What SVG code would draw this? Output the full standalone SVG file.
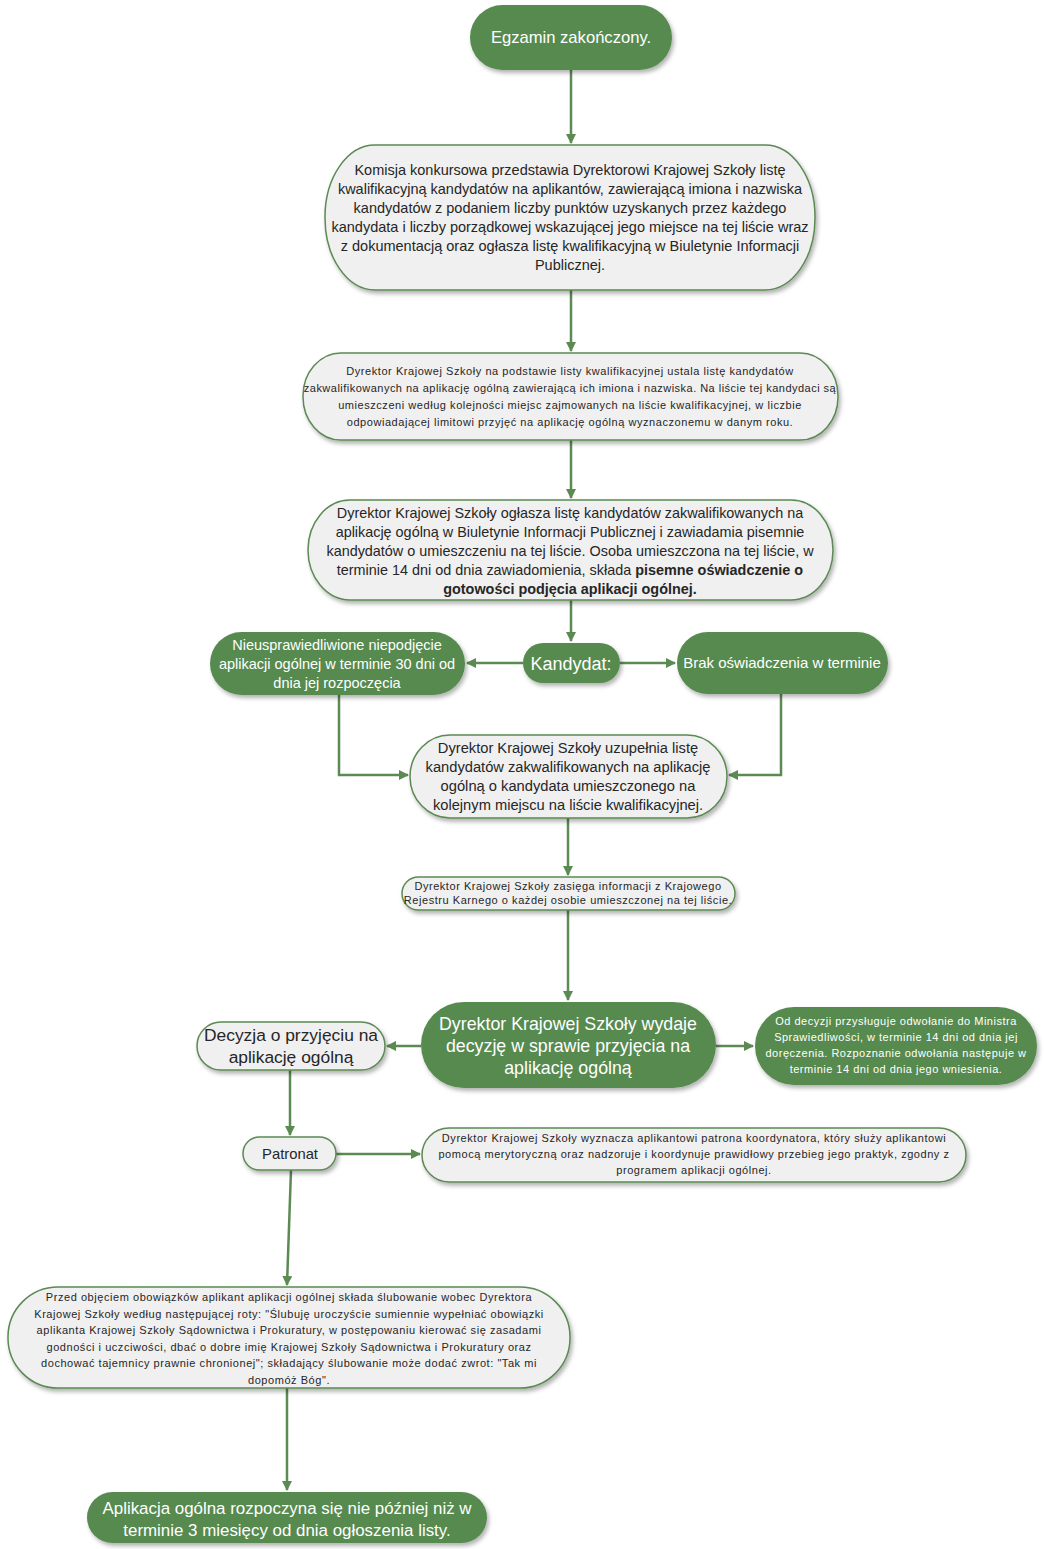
<svg xmlns="http://www.w3.org/2000/svg" width="1044" height="1549" viewBox="0 0 1044 1549">
<defs>
<filter id="sh" x="-10%" y="-20%" width="120%" height="150%">
<feDropShadow dx="2" dy="3" stdDeviation="2" flood-color="#000" flood-opacity="0.3"/>
</filter>
<marker id="ah" viewBox="0 0 10 10" refX="9" refY="5" markerWidth="4" markerHeight="4" orient="auto">
<path d="M0,0 L10,5 L0,10 z" fill="#5b8a53"/>
</marker>
<style>
.g{fill:#578a4f;filter:url(#sh)}
.l{fill:#f0f0f0;stroke:#5b8a53;stroke-width:1.5;filter:url(#sh)}
text{font-family:"Liberation Sans",Arial,sans-serif;text-anchor:middle}
.w{fill:#ffffff}
.k{fill:#262626}
.s{font-size:11px;letter-spacing:0.55px}
.c{fill:none;stroke:#5b8a53;stroke-width:2.5;marker-end:url(#ah)}
</style>
</defs>

<g id="connectors">
<path class="c" d="M571,70 L571,143"/>
<path class="c" d="M571,290 L571,351"/>
<path class="c" d="M571,440 L571,498"/>
<path class="c" d="M571,600 L571,641"/>
<path class="c" d="M523,663 L467,663"/>
<path class="c" d="M620,663 L675,663"/>
<path class="c" d="M339,695 L339,775 L408,775"/>
<path class="c" d="M781,694 L781,775 L729,775"/>
<path class="c" d="M568,818 L568,875"/>
<path class="c" d="M568,910 L568,1000"/>
<path class="c" d="M421,1046 L387,1046"/>
<path class="c" d="M716,1046 L753,1046"/>
<path class="c" d="M290,1070 L290,1135"/>
<path class="c" d="M336,1154 L420,1154"/>
<path class="c" d="M291,1170 L287,1285"/>
<path class="c" d="M287,1388 L287,1490"/>
</g>

<g id="n1">
<rect class="g" x="470" y="5" width="202" height="65" rx="32.5"/>
<text class="w" x="571" y="43" font-size="16.6">Egzamin zakończony.</text>
</g>

<g id="n2">
<rect class="l" x="325" y="145" width="490" height="145" rx="50" ry="72"/>
<g class="k" font-size="14.5">
<text x="570" y="175">Komisja konkursowa przedstawia Dyrektorowi Krajowej Szkoły listę</text>
<text x="570" y="194">kwalifikacyjną kandydatów na aplikantów, zawierającą imiona i nazwiska</text>
<text x="570" y="213">kandydatów z podaniem liczby punktów uzyskanych przez każdego</text>
<text x="570" y="232">kandydata i liczby porządkowej wskazującej jego miejsce na tej liście wraz</text>
<text x="570" y="251">z dokumentacją oraz ogłasza listę kwalifikacyjną w Biuletynie Informacji</text>
<text x="570" y="270">Publicznej.</text>
</g>
</g>

<g id="n3">
<rect class="l" x="303" y="353" width="535" height="87" rx="38" ry="43"/>
<g class="k s">
<text x="570" y="375">Dyrektor Krajowej Szkoły na podstawie listy kwalifikacyjnej ustala listę kandydatów</text>
<text x="570" y="392" letter-spacing="0.48">zakwalifikowanych na aplikację ogólną zawierającą ich imiona i nazwiska. Na liście tej kandydaci są</text>
<text x="570" y="409">umieszczeni według kolejności miejsc zajmowanych na liście kwalifikacyjnej, w liczbie</text>
<text x="570" y="426">odpowiadającej limitowi przyjęć na aplikację ogólną wyznaczonemu w danym roku.</text>
</g>
</g>

<g id="n4">
<rect class="l" x="308" y="500" width="525" height="100" rx="42" ry="50"/>
<g class="k" font-size="14.4">
<text x="570" y="518">Dyrektor Krajowej Szkoły ogłasza listę kandydatów zakwalifikowanych na</text>
<text x="570" y="537">aplikację ogólną w Biuletynie Informacji Publicznej i zawiadamia pisemnie</text>
<text x="570" y="556">kandydatów o umieszczeniu na tej liście. Osoba umieszczona na tej liście, w</text>
<text x="570" y="575">terminie 14 dni od dnia zawiadomienia, składa <tspan font-weight="bold">pisemne oświadczenie o</tspan></text>
<text x="570" y="594" font-weight="bold">gotowości podjęcia aplikacji ogólnej.</text>
</g>
</g>

<g id="n5">
<rect class="g" x="523" y="643" width="97" height="40" rx="20"/>
<text class="w" x="571" y="669.5" font-size="18">Kandydat:</text>
</g>

<g id="n6">
<rect class="g" x="210" y="632" width="255" height="63" rx="31.5"/>
<g class="w" font-size="14.5">
<text x="337" y="650">Nieusprawiedliwione niepodjęcie</text>
<text x="337" y="669">aplikacji ogólnej w terminie 30 dni od</text>
<text x="337" y="688">dnia jej rozpoczęcia</text>
</g>
</g>

<g id="n7">
<rect class="g" x="677" y="632" width="211" height="62" rx="31"/>
<text class="w" x="782" y="668" font-size="15">Brak oświadczenia w terminie</text>
</g>

<g id="n8">
<rect class="l" x="410" y="735" width="317" height="83" rx="40" ry="41.5"/>
<g class="k" font-size="14.7">
<text x="568" y="753">Dyrektor Krajowej Szkoły uzupełnia listę</text>
<text x="568" y="772">kandydatów zakwalifikowanych na aplikację</text>
<text x="568" y="791">ogólną o kandydata umieszczonego na</text>
<text x="568" y="810">kolejnym miejscu na liście kwalifikacyjnej.</text>
</g>
</g>

<g id="n9">
<rect class="l" x="402" y="877" width="333" height="33" rx="16.5"/>
<g class="k s">
<text x="568" y="890">Dyrektor Krajowej Szkoły zasięga informacji z Krajowego</text>
<text x="568" y="904">Rejestru Karnego o każdej osobie umieszczonej na tej liście.</text>
</g>
</g>

<g id="n10">
<rect class="g" x="421" y="1002" width="295" height="86" rx="43"/>
<g class="w" font-size="17.8">
<text x="568" y="1030">Dyrektor Krajowej Szkoły wydaje</text>
<text x="568" y="1052">decyzję w sprawie przyjęcia na</text>
<text x="568" y="1074">aplikację ogólną</text>
</g>
</g>

<g id="n11">
<rect class="l" x="197" y="1022" width="188" height="48" rx="24"/>
<g class="k" font-size="17.4">
<text x="291" y="1041">Decyzja o przyjęciu na</text>
<text x="291" y="1063">aplikację ogólną</text>
</g>
</g>

<g id="n12">
<rect class="g" x="755" y="1007" width="282" height="78" rx="39"/>
<g class="w" font-size="11" letter-spacing="0.5">
<text x="896" y="1025">Od decyzji przysługuje odwołanie do Ministra</text>
<text x="896" y="1041">Sprawiedliwości, w terminie 14 dni od dnia jej</text>
<text x="896" y="1057">doręczenia. Rozpoznanie odwołania następuje w</text>
<text x="896" y="1073">terminie 14 dni od dnia jego wniesienia.</text>
</g>
</g>

<g id="n13">
<rect class="l" x="243" y="1137" width="93" height="33" rx="16.5"/>
<text class="k" x="290" y="1159" font-size="14.8">Patronat</text>
</g>

<g id="n14">
<rect class="l" x="422" y="1128" width="544" height="54" rx="27"/>
<g class="k s" letter-spacing="0.62">
<text x="694" y="1142">Dyrektor Krajowej Szkoły wyznacza aplikantowi patrona koordynatora, który służy aplikantowi</text>
<text x="694" y="1158">pomocą merytoryczną oraz nadzoruje i koordynuje prawidłowy przebieg jego praktyk, zgodny z</text>
<text x="694" y="1174">programem aplikacji ogólnej.</text>
</g>
</g>

<g id="n15">
<rect class="l" x="8" y="1287" width="562" height="101" rx="50"/>
<g class="k s">
<text x="289" y="1301">Przed objęciem obowiązków aplikant aplikacji ogólnej składa ślubowanie wobec Dyrektora</text>
<text x="289" y="1317.5">Krajowej Szkoły według następującej roty: "Ślubuję uroczyście sumiennie wypełniać obowiązki</text>
<text x="289" y="1334">aplikanta Krajowej Szkoły Sądownictwa i Prokuratury, w postępowaniu kierować się zasadami</text>
<text x="289" y="1350.5">godności i uczciwości, dbać o dobre imię Krajowej Szkoły Sądownictwa i Prokuratury oraz</text>
<text x="289" y="1367">dochować tajemnicy prawnie chronionej"; składający ślubowanie może dodać zwrot: "Tak mi</text>
<text x="289" y="1383.5">dopomóż Bóg".</text>
</g>
</g>

<g id="n16">
<rect class="g" x="87" y="1492" width="400" height="51" rx="25.5"/>
<g class="w" font-size="16.9">
<text x="287" y="1514">Aplikacja ogólna rozpoczyna się nie później niż w</text>
<text x="287" y="1536">terminie 3 miesięcy od dnia ogłoszenia listy.</text>
</g>
</g>
</svg>
